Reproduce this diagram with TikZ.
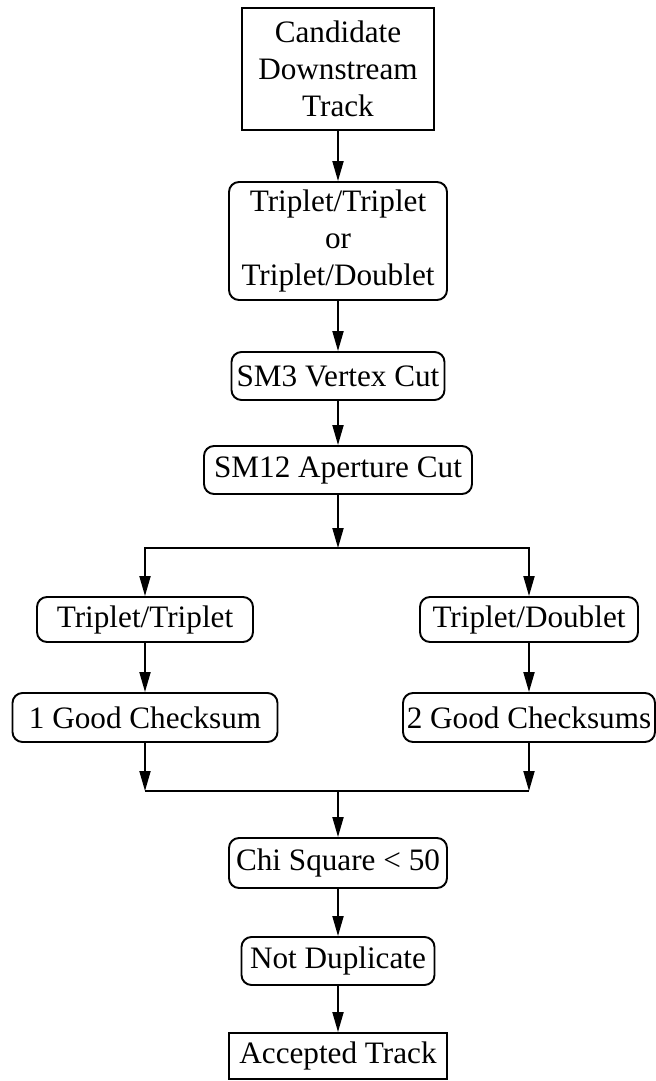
\documentclass[tikz,border=0pt]{standalone}
\usepackage{fontspec}
\setmainfont{Liberation Serif}
\usetikzlibrary{arrows.meta}
\begin{document}
\begin{tikzpicture}[x=0.5pt, y=-0.5pt, line width=0.95pt,
    font=\fontsize{15.6}{18.5}\selectfont,
    box/.style={draw, inner sep=0pt, align=center},
    rbox/.style={box, rounded corners=5pt},
    arr/.style={-{Triangle[length=10pt, width=5.5pt]}}]
  \useasboundingbox (0,0) rectangle (656,1081);
  \node[box, minimum width=96pt, minimum height=61pt] (cand) at (338,69) {Candidate\\Downstream\\Track};
  \node[rbox, minimum width=109pt, minimum height=59pt] (trip) at (338,241) {Triplet/Triplet\\or\\Triplet/Doublet};
  \node[rbox, minimum width=106.5pt, minimum height=24pt] (smthree) at (338,376) {SM3 Vertex Cut};
  \node[rbox, minimum width=134pt, minimum height=24pt] (smtwelve) at (338,470) {SM12 Aperture Cut};
  \node[rbox, minimum width=108pt, minimum height=22.5pt] (tt) at (145,619.5) {Triplet/Triplet};
  \node[rbox, minimum width=132.5pt, minimum height=24.5pt] (gcone) at (145,717.5) {1 Good Checksum};
  \node[rbox, minimum width=109pt, minimum height=22.5pt] (td) at (529,619.5) {Triplet/Doublet};
  \node[rbox, minimum width=126pt, minimum height=24.5pt] (gctwo) at (529,717.5) {2 Good Checksums};
  \node[rbox, minimum width=109pt, minimum height=25pt] (chi) at (338,863) {Chi Square < 50};
  \node[rbox, minimum width=96.5pt, minimum height=24pt] (nodup) at (338,961) {Not Duplicate};
  \node[box, minimum width=109pt, minimum height=23pt] (acc) at (338,1056) {Accepted Track};
  \coordinate (split) at (338,548);
  \coordinate (join) at (338,791);
  \draw[arr] (cand) -- (trip);
  \draw[arr] (trip) -- (smthree);
  \draw[arr] (smthree) -- (smtwelve);
  \draw[arr] (smtwelve) -- (split);
  \draw[arr] (split) -| (tt);
  \draw[arr] (split) -| (td);
  \draw[arr] (tt) -- (gcone);
  \draw[arr] (td) -- (gctwo);
  \draw[arr] (gcone) -- (gcone |- join);
  \draw[arr] (gctwo) -- (gctwo |- join);
  \draw (gcone |- join) -- (gctwo |- join);
  \draw[arr] (join) -- (chi);
  \draw[arr] (chi) -- (nodup);
  \draw[arr] (nodup) -- (acc);
\end{tikzpicture}
\end{document}
